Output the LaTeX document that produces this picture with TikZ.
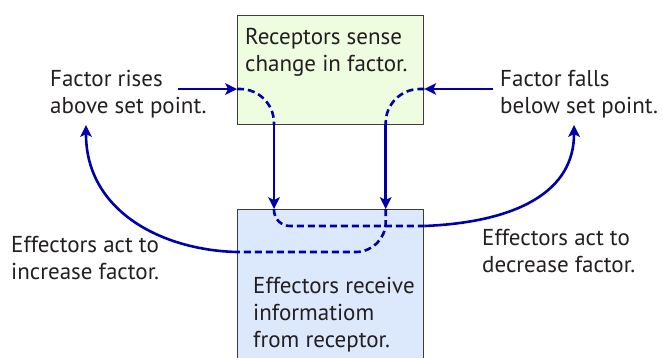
\documentclass[tikz,border=0pt]{standalone}
\usepackage{fontspec}
\setmainfont{PT Sans}
\usetikzlibrary{arrows.meta}

\definecolor{flowblue}{RGB}{0,0,170}
\definecolor{recfill}{RGB}{238,252,224}
\definecolor{efffill}{RGB}{220,232,251}
\definecolor{boxline}{RGB}{60,60,60}
\definecolor{txtgray}{RGB}{35,31,32}

\begin{document}
\begin{tikzpicture}[
    x=1pt, y=-1pt,
    boxcell/.style={
        draw=boxline, line width=1.3pt, inner sep=0pt,
        minimum width=186pt, anchor=north west,
    },
    caption/.style={
        font=\fontsize{23}{27}\selectfont, text=txtgray,
        align=left, inner sep=0pt, anchor=base west,
    },
    flow/.style={draw=flowblue, line width=2.6pt},
    flowarrow/.style={flow, -{Stealth[length=12pt,width=12pt,inset=3pt,line width=0pt]}},
    flowdash/.style={flow, dash pattern=on 7pt off 4pt},
]
\clip (0,0) rectangle (663,357);

% ── Boxes ───────────────────────────────────────────────────
\node[boxcell, fill=recfill, minimum height=109pt] (recept) at (237,15) {};
\node[boxcell, fill=efffill, minimum height=170pt] (effect) at (237,209) {};

% ── Texts (anchored on their last baseline) ─────────────────
\node[caption] (recepttxt) at (245,71) {Receptors sense\\change in factor.};
\node[caption] (effecttxt) at (253,347) {Effectors receive\\informatiom\\from receptor.};
\node[caption] (rises) at (50,113) {Factor rises\\above set point.};
\node[caption] (falls) at (500,113) {Factor falls\\below set point.};
\node[caption] (incr) at (11,279) {Effectors act to\\increase factor.};
\node[caption] (decr) at (482,272) {Effectors act to\\decrease factor.};

% ── Points on the loops ─────────────────────────────────────
\coordinate (inL)   at (recept.west |- 0,89);
\coordinate (inR)   at (recept.east |- 0,89);
\coordinate (downL) at (274,124);
\coordinate (downR) at (385.7,124);
\coordinate (hitL)  at (downL |- effect.north);
\coordinate (hitR)  at (downR |- effect.north);
\coordinate (outR)  at (effect.east |- 0,226);
\coordinate (outL)  at (effect.west |- 0,252);
\coordinate (startL) at (178,89);
\coordinate (startR) at (493,89);
\coordinate (endL)  at (86,125);
\coordinate (endR)  at (574,125);

% ── Rising factor loop ──────────────────────────────────────
\draw[flowarrow] (startL) -- (inL);
\draw[flowdash, rounded corners=34pt] (inL) -- (downL |- inL) -- (downL);
\draw[flowarrow] (downL) -- (hitL);
\draw[flowdash, rounded corners=16pt] (hitL) -- (downL |- outR) -- (outR);
\draw[flowarrow] (outR) .. controls (520,222) and (574,190) .. (endR);

% ── Falling factor loop ─────────────────────────────────────
\draw[flowarrow] (startR) -- (inR);
\draw[flowdash, rounded corners=34pt] (inR) -- (downR |- inR) -- (downR);
\draw[flowarrow] (downR) -- (hitR);
\draw[flowdash, rounded corners=30pt] (hitR) -- (downR |- outL) -- (outL);
\draw[flowarrow] (outL) .. controls (160,250) and (86,210) .. (endL);

\end{tikzpicture}
\end{document}
